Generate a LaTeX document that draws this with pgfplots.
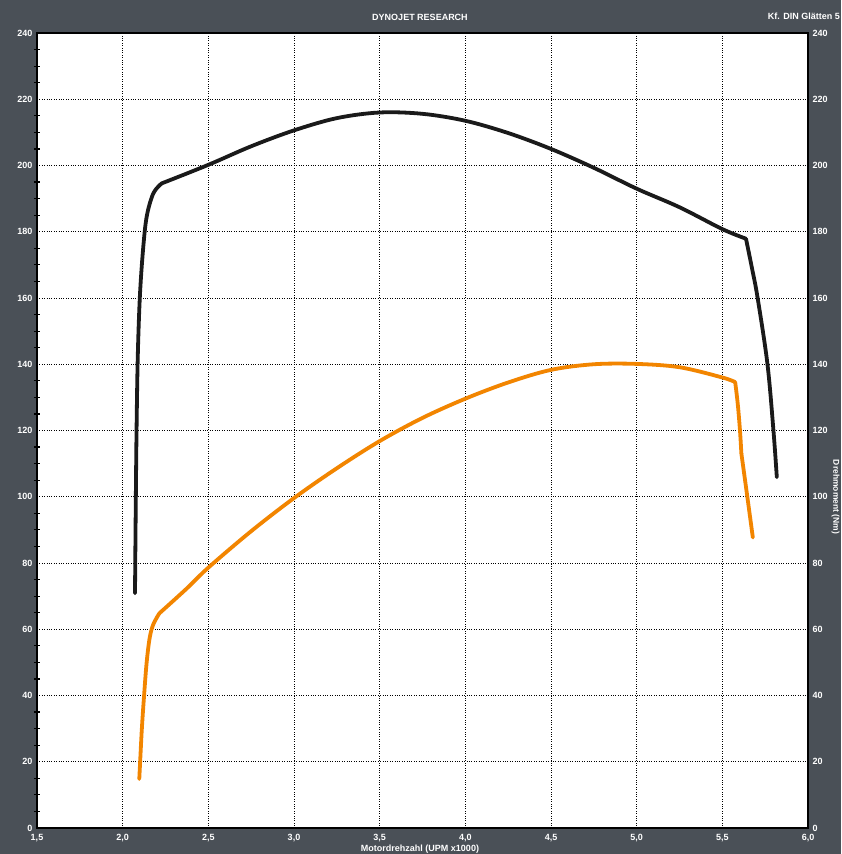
\documentclass[border=0pt]{standalone}
\usepackage{pgfplots}
\pgfplotsset{compat=1.18}
\usepackage{fontspec}
\setmainfont{Liberation Sans}
\definecolor{bg}{HTML}{4A5057}
\definecolor{curveorange}{HTML}{F28500}
\definecolor{curveblack}{HTML}{1A1A1A}
\pgfplotsset{
  dynobase/.style={
    at={(37pt,26pt)}, anchor=south west, scale only axis,
    width=771pt, height=795pt,
    xmin=1.5, xmax=6, ymin=0, ymax=240,
    ytick={0,20,...,240},
    axis line style={black, line width=2.6pt},
    major tick length=0pt,
    ticklabel style={text=white, font=\bfseries\fontsize{9}{10}\selectfont},
    /pgf/number format/assume math mode=true,
  },
  blk/.style={curveblack, line width=3.8pt, smooth, tension=0.55, line cap=round, line join=round},
  org/.style={curveorange, line width=3.8pt, smooth, tension=0.55, line cap=round, line join=round},
}
\begin{document}
\begin{tikzpicture}[x=1pt,y=1pt]
\useasboundingbox (0,0) rectangle (841,854);
\clip (0,0) rectangle (841,854);
\fill[bg] (0,0) rectangle (841,854);
\begin{axis}[
  dynobase,
  xtick={1.5,2,2.5,3,3.5,4,4.5,5,5.5,6},
  minor y tick num=3,
  grid=major,
  major grid style={black, dotted, line width=0.9pt},
  axis background/.style={fill=white},
  ytick pos=left, xtick pos=bottom,
  minor tick length=6pt,
  tick align=center,
  minor tick style={black, line width=1.2pt},
  xticklabel style={yshift=-3pt, /pgf/number format/fixed, /pgf/number format/fixed zerofill, /pgf/number format/precision=1, /pgf/number format/use comma},
  yticklabel style={xshift=-1pt},
]
% black curve: rise, main arc, drop
\addplot[blk] coordinates {
(2.072,70.9) (2.076,95) (2.081,120) (2.088,142) (2.100,160) (2.118,174)
(2.140,184.5) (2.179,191.6) (2.228,194.6)
};
\addplot[blk] coordinates {
(2.228,194.6) (2.5,200.2) (2.75,205.8) (3.0,210.6) (3.25,214.3) (3.5,216.0)
(3.75,215.6) (4.0,213.5) (4.25,209.8) (4.5,205.0) (4.75,199.3) (5.0,193.0)
(5.25,187.4) (5.5,180.8) (5.638,177.9)
};
\addplot[blk] coordinates {
(5.638,177.9) (5.675,168.5) (5.705,160.3) (5.763,140.2) (5.798,120.2) (5.818,105.9)
};
% orange curve: rise, main arc, drop
\addplot[org] coordinates {
(2.097,14.8) (2.102,20) (2.112,30) (2.125,40) (2.140,50) (2.158,57.5)
(2.179,61.5) (2.214,64.8)
};
\addplot[org] coordinates {
(2.214,64.8) (2.374,72.3) (2.5,78.6) (2.75,89.6) (3.0,99.6)
(3.25,108.6) (3.5,116.8) (3.75,123.8) (4.0,129.6) (4.25,134.5) (4.5,138.3)
(4.75,140.0) (5.0,140.1) (5.25,139.1) (5.5,136.0) (5.575,134.6)
};
\addplot[org] coordinates {
(5.575,134.6) (5.590,128) (5.603,120) (5.611,113.1)
};
\addplot[org] coordinates {
(5.611,113.1) (5.645,100.3) (5.678,87.7)
};
\end{axis}
\begin{axis}[
  dynobase,
  axis x line=none,
  axis y line*=right,
  yticklabel style={xshift=1pt},
]
\end{axis}
\node[text=white, font=\bfseries\fontsize{9}{10}\selectfont] at (420,837) {DYNOJET RESEARCH};
\node[text=white, font=\bfseries\fontsize{9}{10}\selectfont, anchor=east, inner sep=0pt] at (840,838) {Kf. DIN Glätten 5};
\node[text=white, font=\bfseries\fontsize{9}{10}\selectfont] at (420,5) {Motordrehzahl (UPM x1000)};
\node[text=white, font=\bfseries\fontsize{8.5}{10}\selectfont, rotate=-90, inner sep=0pt] at (835.5,357) {Drehmoment (Nm)};
\end{tikzpicture}
\end{document}
